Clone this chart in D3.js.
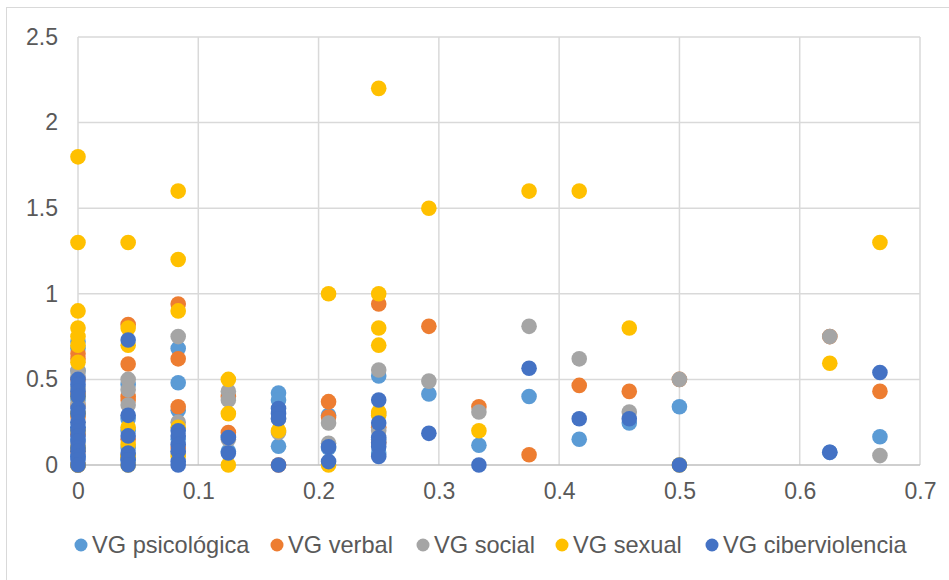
<!DOCTYPE html>
<html>
<head>
<meta charset="utf-8">
<script src="https://cdn.jsdelivr.net/npm/d3@7"></script>
<style>
  html, body { margin: 0; padding: 0; background: #fff; }
  svg { display: block; }
</style>
</head>
<body>
<script>
// ---- Data (x, y) per series ----
const seriesNames = ["VG psicológica", "VG verbal", "VG social", "VG sexual", "VG ciberviolencia"];
const seriesColors = ["#5B9BD5", "#ED7D31", "#A5A5A5", "#FFC000", "#4472C4"];

const psicologica = [
  [0,0.72],[0,0.68],[0,0.55],[0,0.45],[0,0.38],[0,0.30],[0,0.22],[0,0.15],[0,0.10],[0,0.05],[0,0],
  [0.0417,0.47],[0.0417,0.27],[0.0417,0.20],[0.0417,0.10],[0.0417,0.03],
  [0.0833,0.68],[0.0833,0.48],[0.0833,0.32],[0.0833,0.15],
  [0.125,0.17],[0.125,0.08],
  [0.1667,0.42],[0.1667,0.38],[0.1667,0.11],
  [0.2083,0.29],[0.2083,0.10],
  [0.25,0.52],[0.25,0.15],[0.25,0.07],
  [0.2917,0.415],[0.3333,0.115],[0.375,0.40],[0.4167,0.15],[0.4583,0.245],
  [0.5,0.34],[0.625,0.074],[0.6667,0.165]
];
const verbal = [
  [0,0.65],[0,0.62],[0,0.50],[0,0.42],[0,0.35],[0,0.28],[0,0.18],[0,0.08],[0,0],
  [0.0417,0.82],[0.0417,0.59],[0.0417,0.40],[0.0417,0.38],[0.0417,0.15],[0.0417,0.05],
  [0.0833,0.94],[0.0833,0.62],[0.0833,0.34],[0.0833,0.10],
  [0.125,0.40],[0.125,0.19],
  [0.1667,0],
  [0.2083,0.37],[0.2083,0.28],
  [0.25,0.94],[0.25,0.22],[0.25,0.13],
  [0.2917,0.81],[0.3333,0.34],[0.375,0.06],[0.4167,0.465],[0.4583,0.43],
  [0.5,0.50],[0.625,0.75],[0.6667,0.43]
];
const social = [
  [0,0.55],[0,0.52],[0,0.45],[0,0.35],[0,0.25],[0,0.12],[0,0],
  [0.0417,0.50],[0.0417,0.44],[0.0417,0.35],[0.0417,0.05],
  [0.0833,0.75],[0.0833,0.25],[0.0833,0.07],
  [0.125,0.43],[0.125,0.38],[0.125,0.15],
  [0.1667,0.27],[0.1667,0.19],
  [0.2083,0.245],[0.2083,0.127],
  [0.25,0.555],[0.25,0.30],[0.25,0.20],
  [0.2917,0.49],[0.3333,0.31],[0.375,0.81],[0.4167,0.62],[0.4583,0.31],
  [0.5,0.50],[0.625,0.75],[0.6667,0.055]
];
const sexual = [
  [0,1.8],[0,1.3],[0,0.9],[0,0.8],[0,0.75],[0,0.70],[0,0.60],[0,0.40],[0,0.30],[0,0.20],[0,0.10],[0,0],
  [0.0417,1.3],[0.0417,0.80],[0.0417,0.70],[0.0417,0.22],[0.0417,0.12],[0.0417,0.05],[0.0417,0],
  [0.0833,1.6],[0.0833,1.2],[0.0833,0.90],[0.0833,0.22],[0.0833,0.05],
  [0.125,0.50],[0.125,0.30],[0.125,0],
  [0.1667,0.20],
  [0.2083,1.0],[0.2083,0],
  [0.25,2.2],[0.25,1.0],[0.25,0.80],[0.25,0.70],[0.25,0.31],[0.25,0.29],
  [0.2917,1.5],[0.3333,0.20],[0.375,1.6],[0.4167,1.6],[0.4583,0.80],
  [0.5,0],[0.625,0.594],[0.6667,1.3]
];
const ciberviolencia = [
  [0,0.50],[0,0.47],[0,0.43],[0,0.40],[0,0.33],[0,0.30],[0,0.25],[0,0.22],[0,0.20],[0,0.17],[0,0.14],[0,0.10],[0,0.08],[0,0.05],[0,0.03],[0,0],
  [0.0417,0.73],[0.0417,0.29],[0.0417,0.17],[0.0417,0.07],[0.0417,0.03],[0.0417,0],
  [0.0833,0.20],[0.0833,0.17],[0.0833,0.12],[0.0833,0.08],[0.0833,0.02],[0.0833,0],
  [0.125,0.16],[0.125,0.07],
  [0.1667,0.33],[0.1667,0.30],[0.1667,0.27],[0.1667,0],
  [0.2083,0.107],[0.2083,0.02],
  [0.25,0.38],[0.25,0.245],[0.25,0.16],[0.25,0.13],[0.25,0.107],[0.25,0.05],
  [0.2917,0.185],[0.3333,0],[0.375,0.565],[0.4167,0.27],[0.4583,0.27],
  [0.5,0],[0.625,0.074],[0.6667,0.54]
];
const seriesData = [psicologica, verbal, social, sexual, ciberviolencia];

const xTicks = [0, 0.1, 0.2, 0.3, 0.4, 0.5, 0.6, 0.7];
const yTicks = [0, 0.5, 1, 1.5, 2, 2.5];

// ---- Layout ----
const W = 949, H = 580;
const plot = { left: 78, right: 920, top: 37, bottom: 465 };
const font = "'Liberation Sans', Arial, sans-serif";
const textColor = "#595959";

const svg = d3.select("body").append("svg").attr("width", W).attr("height", H);

svg.append("rect").attr("x", 0).attr("y", 0).attr("width", W).attr("height", H).attr("fill", "#fff");
svg.append("rect").attr("x", 6.5).attr("y", 7.5).attr("width", W + 20).attr("height", H + 20)
  .attr("fill", "none").attr("stroke", "#D9D9D9").attr("stroke-width", 1);

const x = d3.scaleLinear().domain([0, 0.7]).range([plot.left, plot.right]);
const y = d3.scaleLinear().domain([0, 2.5]).range([plot.bottom, plot.top]);

// Gridlines
const grid = svg.append("g");
grid.selectAll("line.v").data(xTicks).join("line")
  .attr("x1", d => x(d)).attr("x2", d => x(d))
  .attr("y1", plot.top).attr("y2", plot.bottom)
  .attr("stroke", "#D9D9D9").attr("stroke-width", 1.5);
grid.selectAll("line.h").data(yTicks.filter(d => d > 0)).join("line")
  .attr("x1", plot.left).attr("x2", plot.right)
  .attr("y1", d => y(d)).attr("y2", d => y(d))
  .attr("stroke", "#D9D9D9").attr("stroke-width", 1.5);

// X axis line at y=0
svg.append("line").attr("x1", plot.left).attr("x2", plot.right)
  .attr("y1", y(0)).attr("y2", y(0)).attr("stroke", "#BFBFBF").attr("stroke-width", 1.5);

// Axes labels via d3 axes
const xAxis = d3.axisBottom(x).tickValues(xTicks).tickFormat(d => d3.format("")(+d.toFixed(1))).tickSize(0).tickPadding(18);
const gx = svg.append("g").attr("transform", `translate(0,${plot.bottom})`).call(xAxis);
gx.select(".domain").remove();
gx.selectAll("text").attr("font-family", font).attr("font-size", 23).attr("fill", textColor);

const yAxis = d3.axisLeft(y).tickValues(yTicks).tickFormat(d => String(d)).tickSize(0).tickPadding(20);
const gy = svg.append("g").attr("transform", `translate(${plot.left},0)`).call(yAxis);
gy.select(".domain").remove();
gy.selectAll("text").attr("font-family", font).attr("font-size", 23).attr("fill", textColor);

// Points
seriesData.forEach((data, i) => {
  svg.append("g").selectAll("circle").data(data).join("circle")
    .attr("cx", d => x(d[0])).attr("cy", d => y(d[1]))
    .attr("r", 7.8).attr("fill", seriesColors[i]);
});

// Legend
const legendX = [81, 277, 423, 562, 712];
const legendY = 545;
const lg = svg.append("g");
seriesNames.forEach((name, i) => {
  lg.append("circle").attr("cx", legendX[i]).attr("cy", legendY).attr("r", 6.5).attr("fill", seriesColors[i]);
  lg.append("text").attr("x", legendX[i] + 11).attr("y", legendY).attr("dy", "0.35em")
    .attr("font-family", font).attr("font-size", 23.6).attr("fill", textColor).text(name);
});
</script>
</body>
</html>
